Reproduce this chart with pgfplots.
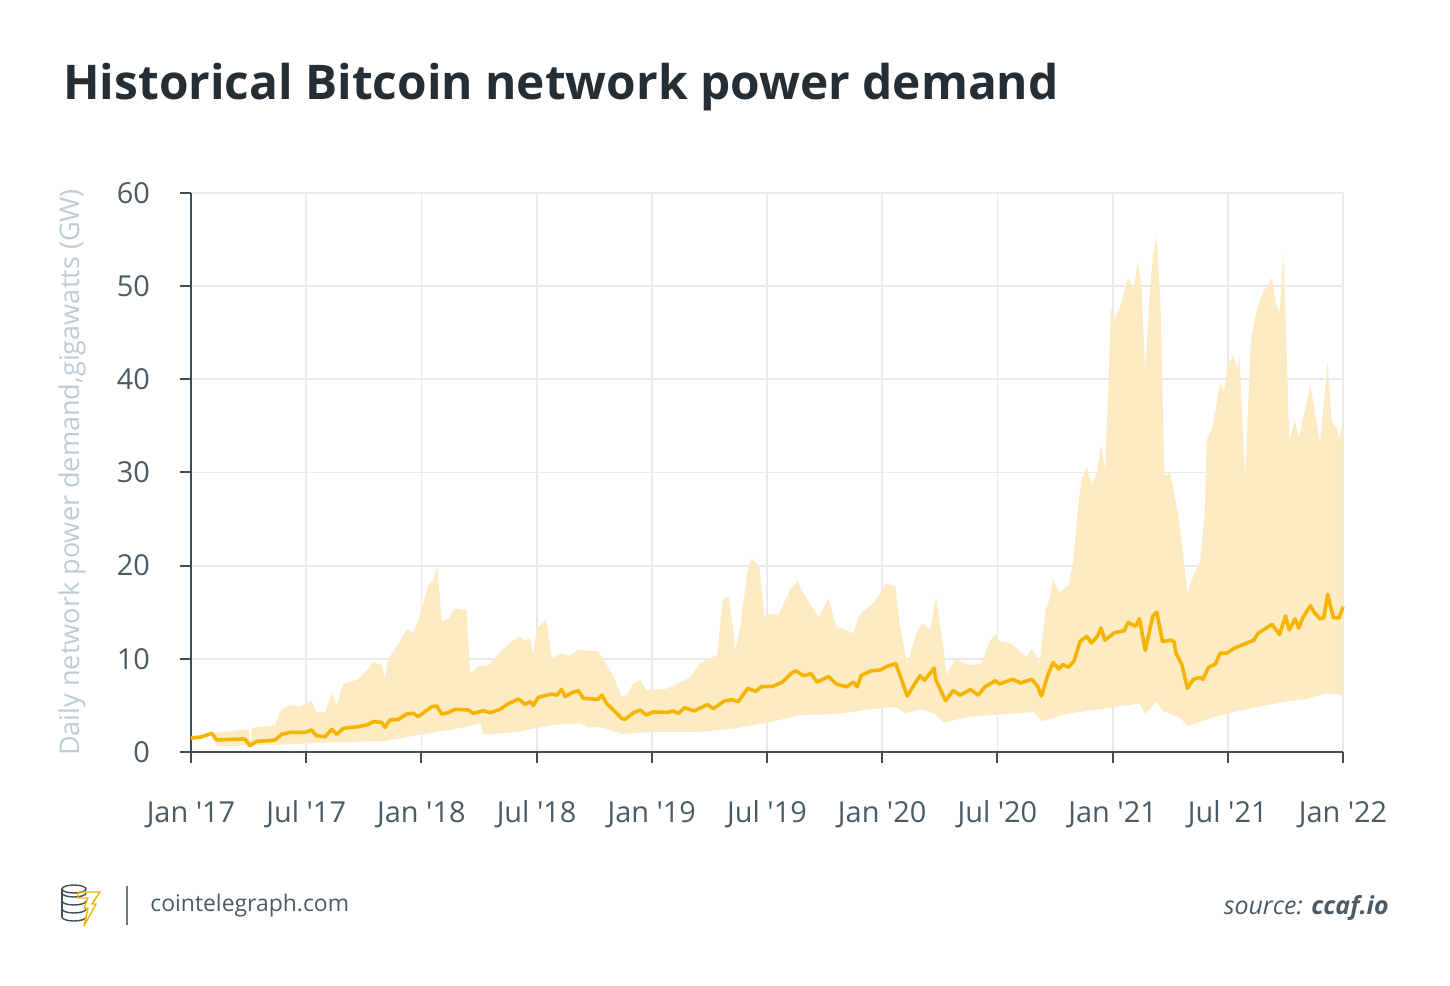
\documentclass[border=0pt]{standalone}
\usepackage{fontspec}
\setmainfont{Open Sans}
\usepackage{pgfplots}
\pgfplotsset{compat=1.18}
\usepgfplotslibrary{fillbetween}
\definecolor{bandcol}{HTML}{FCEBC3}
\definecolor{linecol}{HTML}{F5B400}
\definecolor{titlecol}{HTML}{252E35}
\definecolor{tickcol}{HTML}{4B5A65}
\definecolor{ylabcol}{HTML}{BFCBD2}
\definecolor{axiscol}{HTML}{3F4E58}
\definecolor{gridcol}{HTML}{EAEAEA}

\pgfplotstableread{
m v
0 1.5
0.5 1.6
1.08 2.0
1.34 1.29
2.0 1.35
2.81 1.4
3.07 0.68
3.42 1.14
4.0 1.2
4.375 1.29
4.72 1.9
5.16 2.1
5.94 2.1
6.28 2.36
6.54 1.75
6.98 1.64
7.33 2.43
7.59 1.9
7.93 2.54
8.71 2.72
9.15 2.9
9.5 3.25
9.93 3.18
10.1 2.65
10.36 3.43
10.8 3.5
11.23 4.08
11.58 4.15
11.84 3.79
12.19 4.33
12.54 4.86
12.8 4.93
13.06 4.08
13.4 4.22
13.75 4.58
14.44 4.5
14.7 4.15
15.22 4.43
15.57 4.22
16.1 4.58
16.5 5.15
17.05 5.69
17.4 5.11
17.66 5.4
17.83 5.0
18.09 5.87
18.79 6.22
19.05 6.1
19.3 6.72
19.48 5.94
19.83 6.36
20.17 6.58
20.43 5.76
21.2 5.65
21.4 6.1
21.65 5.2
22.0 4.5
22.43 3.6
22.6 3.5
23.04 4.2
23.4 4.5
23.7 3.97
24.08 4.3
24.8 4.25
25.1 4.4
25.4 4.15
25.7 4.76
26.2 4.4
26.9 5.1
27.2 4.65
27.8 5.5
28.2 5.6
28.5 5.4
29.0 6.83
29.4 6.5
29.7 7.0
30.3 7.05
30.8 7.5
31.3 8.5
31.5 8.7
31.9 8.2
32.3 8.4
32.6 7.5
33.2 8.1
33.6 7.3
34.15 7.0
34.5 7.5
34.7 7.0
34.9 8.2
35.4 8.7
35.9 8.8
36.2 9.15
36.7 9.5
36.9 8.4
37.3 6.0
37.6 7.0
37.97 8.2
38.2 7.7
38.7 9.0
38.8 7.7
39.3 5.5
39.7 6.6
40.05 6.1
40.6 6.7
41.0 6.1
41.35 7.0
41.9 7.65
42.1 7.3
42.8 7.8
43.2 7.4
43.8 7.8
44.1 7.0
44.3 6.0
44.6 8.1
44.9 9.6
45.2 8.9
45.4 9.4
45.7 9.1
46.0 9.8
46.3 11.85
46.65 12.4
46.9 11.7
47.2 12.4
47.4 13.3
47.6 12.0
48.1 12.8
48.6 13.0
48.8 13.9
49.2 13.5
49.4 14.3
49.7 10.9
49.95 13.3
50.1 14.6
50.3 15.0
50.6 11.85
51.0 12.0
51.2 11.85
51.3 10.6
51.6 9.4
51.9 6.85
52.2 7.8
52.55 8.0
52.7 7.8
53.0 9.1
53.35 9.4
53.6 10.6
53.95 10.6
54.3 11.1
55.0 11.7
55.35 12.0
55.6 12.8
56.0 13.3
56.3 13.7
56.7 12.6
57.0 14.6
57.2 13.1
57.5 14.3
57.7 13.3
57.9 14.4
58.3 15.7
58.5 15.0
58.8 14.3
59.0 14.4
59.2 16.9
59.5 14.4
59.8 14.4
60 15.6
}\midtable

\pgfplotstableread{
m v
0 1.7
0.5 1.8
1.08 2.15
1.3 2.1
2.0 2.2
2.81 2.43
3.0 2.4
3.07 0.9
3.2 2.6
4.375 2.9
4.63 4.33
5.1 5.04
5.68 4.86
6.28 5.51
6.54 4.22
6.98 4.33
7.33 6.36
7.59 5.04
7.93 7.3
8.71 7.8
9.24 8.97
9.5 9.68
9.93 9.3
10.1 7.9
10.28 10.0
10.8 11.6
11.23 13.2
11.58 12.7
11.93 14.7
12.36 17.9
12.62 18.5
12.83 19.9
13.06 14.0
13.4 14.3
13.75 15.4
14.36 15.2
14.53 8.4
14.97 9.2
15.5 9.3
16.2 10.95
17.05 12.4
17.4 12.0
17.66 12.2
17.83 10.4
18.0 13.2
18.5 14.2
18.79 10.05
19.3 10.6
19.66 10.3
20.17 10.95
21.2 10.8
21.5 9.9
22.0 8.1
22.43 5.9
22.7 6.1
23.04 7.4
23.4 7.7
23.7 6.6
24.8 6.8
25.5 7.5
26.0 8.0
26.5 9.5
27.0 10.0
27.4 10.4
27.7 16.3
28.0 16.7
28.2 13.8
28.35 10.8
28.6 13.4
29.0 19.5
29.2 20.8
29.6 19.9
29.9 14.2
30.1 14.9
30.6 14.7
31.2 17.4
31.6 18.3
31.9 17.0
32.3 15.7
32.7 14.5
33.2 16.5
33.6 13.4
34.15 13.1
34.5 12.7
34.8 14.7
35.6 16.1
36.2 18.1
36.7 17.7
36.9 13.8
37.3 9.5
37.8 12.9
38.1 13.8
38.5 13.1
38.8 16.7
39.2 10.95
39.35 8.2
39.8 10.0
40.5 9.3
41.2 9.5
41.6 11.9
41.9 12.6
42.1 11.85
42.6 11.7
42.8 11.5
43.2 10.7
43.5 10.2
43.8 11.1
44.2 9.6
44.5 15.2
44.7 16.3
44.9 18.5
45.2 17.2
45.7 17.8
45.95 20.4
46.2 26.3
46.4 29.4
46.65 30.6
46.9 28.7
47.2 30.0
47.4 33.0
47.6 30.2
47.8 40.0
47.9 47.6
48.1 46.5
48.4 47.8
48.8 50.9
49.1 49.6
49.3 52.6
49.5 50.0
49.7 40.6
49.9 48.3
50.1 53.3
50.3 55.3
50.5 47.8
50.7 29.6
51.0 30.0
51.2 27.8
51.4 25.6
51.7 20.7
51.9 17.0
52.2 18.9
52.55 20.4
52.8 25.6
52.9 33.5
53.2 34.8
53.6 39.6
53.8 38.7
54.0 41.5
54.3 42.6
54.5 41.1
54.6 42.6
54.9 29.3
55.2 44.1
55.5 47.4
55.85 49.4
56.3 50.9
56.5 48.1
56.7 47.2
56.9 53.5
57.1 40.4
57.2 33.3
57.5 35.6
57.7 33.7
57.9 35.6
58.3 39.3
58.5 37.0
58.8 33.1
59.0 37.4
59.2 41.9
59.4 35.6
59.7 34.6
59.8 33.5
60 35.6
}\uptable

\pgfplotstableread{
m v
0 1.3
0.5 1.4
1.08 1.8
1.34 0.57
2.8 0.7
3.07 0.5
3.2 0.7
4.375 0.75
6.98 1.0
10.1 1.18
11.84 1.82
13.58 2.4
15.1 3.07
15.2 1.95
15.57 1.9
17.05 2.18
18.79 2.9
20.3 3.07
20.65 2.65
21.3 2.7
22.08 2.18
22.5 1.93
23.9 2.15
26.5 2.15
28.2 2.5
30.1 3.2
31.8 3.97
33.6 4.05
35.3 4.58
36.7 4.86
37.2 4.15
38.0 4.58
38.7 4.15
39.2 3.15
40.5 3.79
42.1 4.0
43.9 4.3
44.3 3.3
45.6 4.1
47.4 4.6
49.4 5.2
49.7 4.1
50.3 5.4
50.6 4.4
51.5 3.7
51.9 2.8
53.2 3.7
54.3 4.3
56.0 5.0
56.9 5.4
58.1 5.7
59.1 6.3
60 6.1
}\lowtable

\begin{document}
\begin{tikzpicture}[x=1bp,y=1bp]
\node[anchor=base west, inner sep=0, text=titlecol, font=\fontsize{24.0}{28}\selectfont\bfseries] at (31.5,443) {Historical Bitcoin network power demand};

\begin{axis}[
  at={(95.5bp,117bp)}, anchor=south west,
  scale only axis, width=576bp, height=279.5bp,
  xmin=0, xmax=60, ymin=0, ymax=60,
  axis x line*=bottom, axis y line*=left,
  axis line style={draw=axiscol, line width=1bp},
  xtick={0,6,...,60},
  xticklabels={Jan \textquotesingle17,Jul \textquotesingle17,Jan \textquotesingle18,Jul \textquotesingle18,Jan \textquotesingle19,Jul \textquotesingle19,Jan \textquotesingle20,Jul \textquotesingle20,Jan \textquotesingle21,Jul \textquotesingle21,Jan \textquotesingle22},
  ytick={0,10,...,60},
  tick align=outside,
  major tick length=5.5bp,
  tick style={draw=axiscol, line width=1bp},
  grid=major,
  major grid style={draw=gridcol, line width=0.9bp},
  /pgf/number format/assume math mode=true,
  tick label style={font=\fontsize{14.5}{17}\selectfont, text=tickcol},
  xticklabel style={anchor=base, yshift=-30bp},
  yticklabel style={anchor=east, xshift=-11.5bp},
  clip=false,
]
\addplot[name path=U, draw=none] table[x=m, y=v] {\uptable};
\addplot[name path=L, draw=none] table[x=m, y=v] {\lowtable};
\addplot[fill=bandcol, draw=none] fill between[of=U and L];
\addplot[draw=linecol, line width=1.8bp, line join=round] table[x=m, y=v] {\midtable};
\end{axis}

\node[rotate=90, text=ylabcol, font=\fontsize{13.6}{16}\selectfont] at (36,256.75) {Daily network power demand,gigawatts (GW)};

% footer logo
\begin{scope}[line width=0.7bp, draw=axiscol]
  \draw (31,46.5) arc[start angle=180, end angle=360, x radius=6, y radius=2];
  \draw (31,42.5) arc[start angle=180, end angle=360, x radius=6, y radius=2];
  \draw (31,38.5) arc[start angle=180, end angle=360, x radius=6, y radius=2];
  \draw (31,34.5) arc[start angle=180, end angle=360, x radius=6, y radius=2];
  \draw (37,48.5) ellipse[x radius=6, y radius=2];
  \draw (31,48.5) -- (31,34.5);
\end{scope}
\draw[draw=linecol, line width=0.7bp, line join=round] (39,47) -- (50,47) -- (46,41) -- (48,41) -- (42,30) -- (44,39) -- (42,39) -- (44,44) -- (39,44) -- cycle;
\draw[draw=tickcol!80, line width=0.7bp] (63.5,30.5) -- (63.5,50);
\node[anchor=base west, inner sep=0, text=tickcol, font=\fontsize{11.5}{14}\selectfont] at (75,37) {cointelegraph.com};
\node[anchor=base east, inner sep=0, text=tickcol, font=\fontsize{12.5}{15}\selectfont] at (694.5,35.5) {\itshape source: \bfseries ccaf.io};
\path (0,0) rectangle (725,493);
\end{tikzpicture}
\end{document}
